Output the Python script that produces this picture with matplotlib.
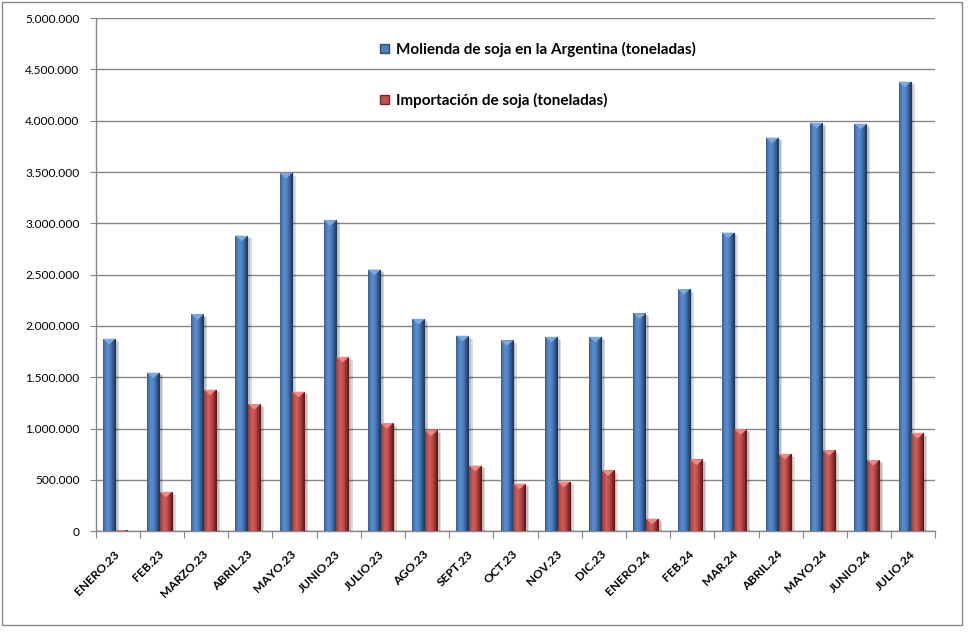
import numpy as np
import matplotlib
matplotlib.use("Agg")
import matplotlib.pyplot as plt
import matplotlib.patheffects as pe
from matplotlib.colors import LinearSegmentedColormap
from matplotlib.patches import Patch, Rectangle
from matplotlib.ticker import FuncFormatter

plt.rcParams['font.family'] = ['Lato', 'DejaVu Sans']

# data (toneladas)
meses = ["ENERO.23", "FEB.23", "MARZO.23", "ABRIL.23", "MAYO.23", "JUNIO.23",
         "JULIO.23", "AGO.23", "SEPT.23", "OCT.23", "NOV.23", "DIC.23",
         "ENERO.24", "FEB.24", "MAR.24", "ABRIL.24", "MAYO.24", "JUNIO.24",
         "JULIO.24"]
molienda = [1876000, 1546000, 2115000, 2880000, 3490000, 3030000,
            2550000, 2070000, 1905000, 1860000, 1895000, 1895000,
            2122000, 2360000, 2910000, 3835000, 3980000, 3970000,
            4380000]
importacion = [12000, 385000, 1380000, 1240000, 1360000, 1700000,
               1055000, 983000, 640000, 465000, 485000, 595000,
               124000, 700000, 995000, 755000, 790000, 695000,
               960000]

lbl_molienda = "Molienda de soja en la Argentina (toneladas)"
lbl_import = "Importación de soja (toneladas)"

blue_cm = LinearSegmentedColormap.from_list("b", [
    (0.0, "#2F5A8C"), (0.15, "#4A7DBE"), (0.35, "#5B8FD2"),
    (0.6, "#4A7AB6"), (0.85, "#2D4C74"), (1.0, "#1C3350")])
red_cm = LinearSegmentedColormap.from_list("r", [
    (0.0, "#8E3532"), (0.15, "#BC4C49"), (0.35, "#D0605C"),
    (0.6, "#B84A47"), (0.85, "#7A2A28"), (1.0, "#4F1917")])

grid_col = "#868686"

fig = plt.figure(figsize=(9.7, 6.32), dpi=100)
ax = fig.add_axes([0.0985, 0.1593, 0.8659, 0.8122])

x = np.arange(len(meses))
w = 0.285
off = -0.05

def gradient_bars(xpos, vals, base, cmap, top_col):
    bars = ax.bar(xpos, vals, width=w, color=base, zorder=3, linewidth=0,
                  path_effects=[pe.SimplePatchShadow(offset=(2.5, -2), shadow_rgbFace="#000000", alpha=0.14),
                                pe.SimplePatchShadow(offset=(1.5, -1), shadow_rgbFace="#000000", alpha=0.14),
                                pe.Normal()])
    grad = np.linspace(0, 1, 64).reshape(1, -1)
    for p in bars:
        x0, bw, h = p.get_x(), p.get_width(), p.get_height()
        im = ax.imshow(grad, cmap=cmap, extent=[x0, x0 + bw, 0, h],
                       aspect="auto", interpolation="bicubic", zorder=4)
        im.set_clip_path(p)
        d = min(h, 55000)
        ax.fill([x0, x0 + bw, x0 + bw / 2], [h, h, h - d], color=top_col,
                zorder=5, linewidth=0)
    return bars

gradient_bars(x - w / 2 + off, molienda, "#4F81BD", blue_cm, "#7FA8DD")
gradient_bars(x + w / 2 + off, importacion, "#C0504D", red_cm, "#EC8A86")

ax.set_xlim(-0.5, len(meses) - 0.5)
ax.set_ylim(0, 5000000)
ax.set_yticks(np.arange(0, 5000001, 500000))
ax.yaxis.set_major_formatter(FuncFormatter(lambda v, _: f"{int(v):,}".replace(",", ".")))
ax.grid(axis="y", color=grid_col, linewidth=1, zorder=0)
ax.set_axisbelow(True)

ax.set_xticks(np.arange(-0.5, len(meses), 1))
ax.set_xticklabels([])
ax.set_xticks(x, minor=True)
ax.set_xticklabels(meses, minor=True, rotation=45, ha="right", va="center",
                   rotation_mode="anchor", fontsize=8.7, fontweight="bold")
ax.tick_params(axis="x", which="minor", length=0, pad=15)
ax.tick_params(axis="x", which="major", length=5, color=grid_col)
ax.tick_params(axis="y", length=4.5, color=grid_col, pad=7, labelsize=8.6)

for s in ["top", "right"]:
    ax.spines[s].set_visible(False)
for s in ["left", "bottom"]:
    ax.spines[s].set_color(grid_col)
    ax.spines[s].set_linewidth(1)

handles = [Patch(facecolor="#4F81BD", edgecolor="#2C4D75", label=lbl_molienda),
           Patch(facecolor="#C0504D", edgecolor="#7A2A28", label=lbl_import)]
fig.legend(handles=handles, loc="upper left", bbox_to_anchor=(366 / 970, 1 - 28 / 632),
           frameon=False, prop={"weight": "bold", "size": 11},
           handlelength=0.6, handleheight=0.6, handletextpad=0.45, labelspacing=2.35)

fig.add_artist(Rectangle((2 / 970, 7 / 632), 960 / 970, 623 / 632,
                         transform=fig.transFigure, fill=False,
                         edgecolor=grid_col, linewidth=1))

plt.savefig("out.png", dpi=100)
